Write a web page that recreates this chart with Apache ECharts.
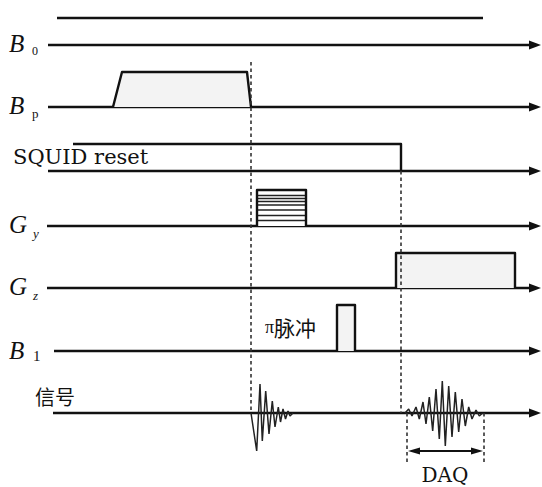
<!DOCTYPE html>
<html>
<head>
<meta charset="utf-8">
<script src="https://cdn.jsdelivr.net/npm/echarts@6/dist/echarts.min.js"></script>
<style>
  html, body { margin: 0; padding: 0; background: #fff; }
  #chart { width: 542px; height: 487px; }
</style>
</head>
<body>
<div id="chart"></div>
<script>
// channels, top to bottom
const channels = ['B0', 'Bp', 'SQUID reset', 'Gy', 'Gz', 'B1', '信号'];

// pulse shapes: [time, amplitude above the channel baseline]
const bpPulse = [[113, 0], [122, 35], [247, 35], [251, 0]];
const squidPulse = [[73, 27], [401, 27], [401, 0]];
const gyPulse = [[257, 0], [257, 36], [306, 36], [306, 0]];
const gyStripes = [30.5, 27.5, 24.5, 21, 16, 10.5, 5.5];
const gzPulse = [[396, 0], [396, 35], [515, 35], [515, 0]];
const b1Pulse = [[337, 0], [337, 46], [355, 46], [355, 0]];

// signal: FID after Bp switch-off and the echo (peak/trough readings)
const fidSignal = [[251, 0], [256.7, -38], [260, 29], [262.3, -28], [265.7, 22], [269, -21],
  [272.3, 12], [275, -14], [278.3, 6], [280.5, -9], [283, 4], [285.5, -6], [288, 2],
  [290, -3], [293, 0]];
const echoSignal = [[405, 0], [408.7, 4], [412, -3], [416, 6], [419.3, -6], [423, 11],
  [426, -11], [429.3, 16], [432.7, -18], [436, 24], [439.3, -26], [442.3, 32],
  [445.3, -33], [448.7, 27], [452, -24], [455.3, 21], [458.7, -19], [462, 14],
  [465.3, -13], [468.7, 6], [472, -6], [476, 3], [479.3, -3], [482.7, 0]];

// timing markers
const markTimes = [251, 401];
const daqWindow = [407, 484];

// layout (y-scale positions of each row etc.)
const baseLevel = [45, 107, 171, 226, 288, 351, 413];
const axisStart = [48, 48, 48, 47, 47, 54, 53];
const axisEnd = 541;
const topLine = { y: 18, from: 57, to: 483 };
const markSpan = [[62, 413], [171, 413]];
const daqSpan = [413, 462];
const daqArrowY = 451;

const INK = '#111';
const FILL = '#f3f3f3';
const LABEL = 'italic 25px "Liberation Serif"';

const pulses = [
  { row: 1, pts: bpPulse, fill: FILL, closed: true },
  { row: 2, pts: squidPulse, fill: null, closed: false },
  { row: 3, pts: gyPulse, fill: '#fff', closed: true, stripes: gyStripes },
  { row: 4, pts: gzPulse, fill: FILL, closed: true },
  { row: 5, pts: b1Pulse, fill: FILL, closed: true }
];

function toRow(row, pts) {
  return pts.map(([t, a]) => [t, baseLevel[row] - a]);
}

function arrowHead(tip, dir, len, half) {
  // dir: +1 points right, -1 points left
  return {
    type: 'polygon',
    shape: { points: [tip, [tip[0] - dir * len, tip[1] - half], [tip[0] - dir * len, tip[1] + half]] },
    style: { fill: INK }
  };
}

function label(x, y, text, font) {
  return { type: 'text', x: x, y: y, style: { text: text, font: font, fill: INK, textVerticalAlign: 'middle' } };
}

const chart = echarts.init(document.getElementById('chart'), null, { renderer: 'svg' });

chart.setOption({
  animation: false,
  grid: { left: 0, right: 0, top: 0, bottom: 0 },
  xAxis: { type: 'value', min: 0, max: 542, show: false },
  yAxis: { type: 'value', min: 0, max: 487, inverse: true, show: false },
  series: [
    {
      // channel time axes with arrow heads, plus the plain top line
      type: 'custom',
      name: 'axes',
      data: channels.map((c, i) => [i]),
      renderItem: function (params, api) {
        const i = params.dataIndex;
        const p0 = api.coord([axisStart[i], baseLevel[i]]);
        const p1 = api.coord([axisEnd, baseLevel[i]]);
        const children = [
          { type: 'line', shape: { x1: p0[0], y1: p0[1], x2: p1[0] - 9, y2: p1[1] },
            style: { stroke: INK, lineWidth: 2.4 } },
          arrowHead(p1, 1, 12, 4.5)
        ];
        if (i === 0) {
          const a = api.coord([topLine.from, topLine.y]);
          const b = api.coord([topLine.to, topLine.y]);
          children.push({ type: 'line', shape: { x1: a[0], y1: a[1], x2: b[0], y2: b[1] },
            style: { stroke: INK, lineWidth: 2.4 } });
        }
        return { type: 'group', children: children };
      }
    },
    {
      // pulses
      type: 'custom',
      name: 'pulses',
      data: pulses.map((p, i) => [i]),
      renderItem: function (params, api) {
        const p = pulses[params.dataIndex];
        const pts = toRow(p.row, p.pts).map(v => api.coord(v));
        const children = [];
        if (p.closed) {
          children.push({ type: 'polygon', shape: { points: pts },
            style: { fill: p.fill, stroke: 'none' } });
        }
        if (p.stripes) {
          const x0 = p.pts[0][0], x1 = p.pts[p.pts.length - 1][0];
          p.stripes.forEach(a => {
            const s0 = api.coord([x0, baseLevel[p.row] - a]);
            const s1 = api.coord([x1, baseLevel[p.row] - a]);
            children.push({ type: 'line', shape: { x1: s0[0], y1: s0[1], x2: s1[0], y2: s1[1] },
              style: { stroke: '#222', lineWidth: 1.6 } });
          });
        }
        children.push({ type: 'polyline', shape: { points: pts },
          style: { fill: null, stroke: INK, lineWidth: 2.4, lineJoin: 'round' } });
        return { type: 'group', children: children };
      }
    },
    {
      type: 'line',
      name: 'FID',
      data: toRow(6, fidSignal),
      symbol: 'none',
      lineStyle: { color: '#222', width: 1.5 },
      z: 3
    },
    {
      type: 'line',
      name: 'echo',
      data: toRow(6, echoSignal),
      symbol: 'none',
      lineStyle: { color: '#222', width: 1.5 },
      z: 3
    },
    {
      // dashed timing markers and DAQ window
      type: 'custom',
      name: 'markers',
      data: [[0]],
      renderItem: function (params, api) {
        const dash = { stroke: '#333', lineWidth: 1.6, lineDash: [3.5, 3] };
        const children = [];
        markTimes.forEach((t, k) => {
          const a = api.coord([t, markSpan[k][0]]);
          const b = api.coord([t, markSpan[k][1]]);
          children.push({ type: 'line', shape: { x1: a[0], y1: a[1], x2: b[0], y2: b[1] }, style: dash });
        });
        daqWindow.forEach(t => {
          const a = api.coord([t, daqSpan[0]]);
          const b = api.coord([t, daqSpan[1]]);
          children.push({ type: 'line', shape: { x1: a[0], y1: a[1], x2: b[0], y2: b[1] }, style: dash });
        });
        const l = api.coord([daqWindow[0], daqArrowY]);
        const r = api.coord([daqWindow[1], daqArrowY]);
        children.push({ type: 'line', shape: { x1: l[0] + 8, y1: l[1], x2: r[0] - 8, y2: r[1] },
          style: { stroke: INK, lineWidth: 1.8 } });
        children.push(arrowHead([l[0] + 1, l[1]], -1, 12, 3.5));
        children.push(arrowHead([r[0] - 1, r[1]], 1, 12, 3.5));
        return { type: 'group', children: children };
      }
    }
  ],
  graphic: [
    label(9, 43, 'B', LABEL),
    label(32, 51, '0', '12px "Liberation Serif"'),
    label(9, 105, 'B', LABEL),
    label(32, 113, 'p', '13px "Liberation Serif"'),
    label(13, 157, 'SQUID reset', '21px "DejaVu Serif"'),
    label(9, 224, 'G', LABEL),
    label(33, 233, 'y', 'italic 13px "Liberation Serif"'),
    label(9, 286, 'G', LABEL),
    label(33, 295, 'z', 'italic 13px "Liberation Serif"'),
    label(9, 350, 'B', LABEL),
    label(33, 356, '1', '15px "Liberation Serif"'),
    { type: 'text', x: 265, y: 327, style: {
        text: '{p|π}{c|脉冲}', fill: INK, textVerticalAlign: 'middle',
        rich: {
          p: { font: '18px "Liberation Serif"', fill: INK },
          c: { font: '21px "Noto Sans CJK SC"', fill: INK }
        } } },
    label(35, 396, '信号', '20px "Noto Sans CJK SC"'),
    { type: 'text', x: 445, y: 475, style: { text: 'DAQ', font: '20px "DejaVu Serif"', fill: INK, textAlign: 'center', textVerticalAlign: 'middle' } }
  ]
});
</script>
</body>
</html>
